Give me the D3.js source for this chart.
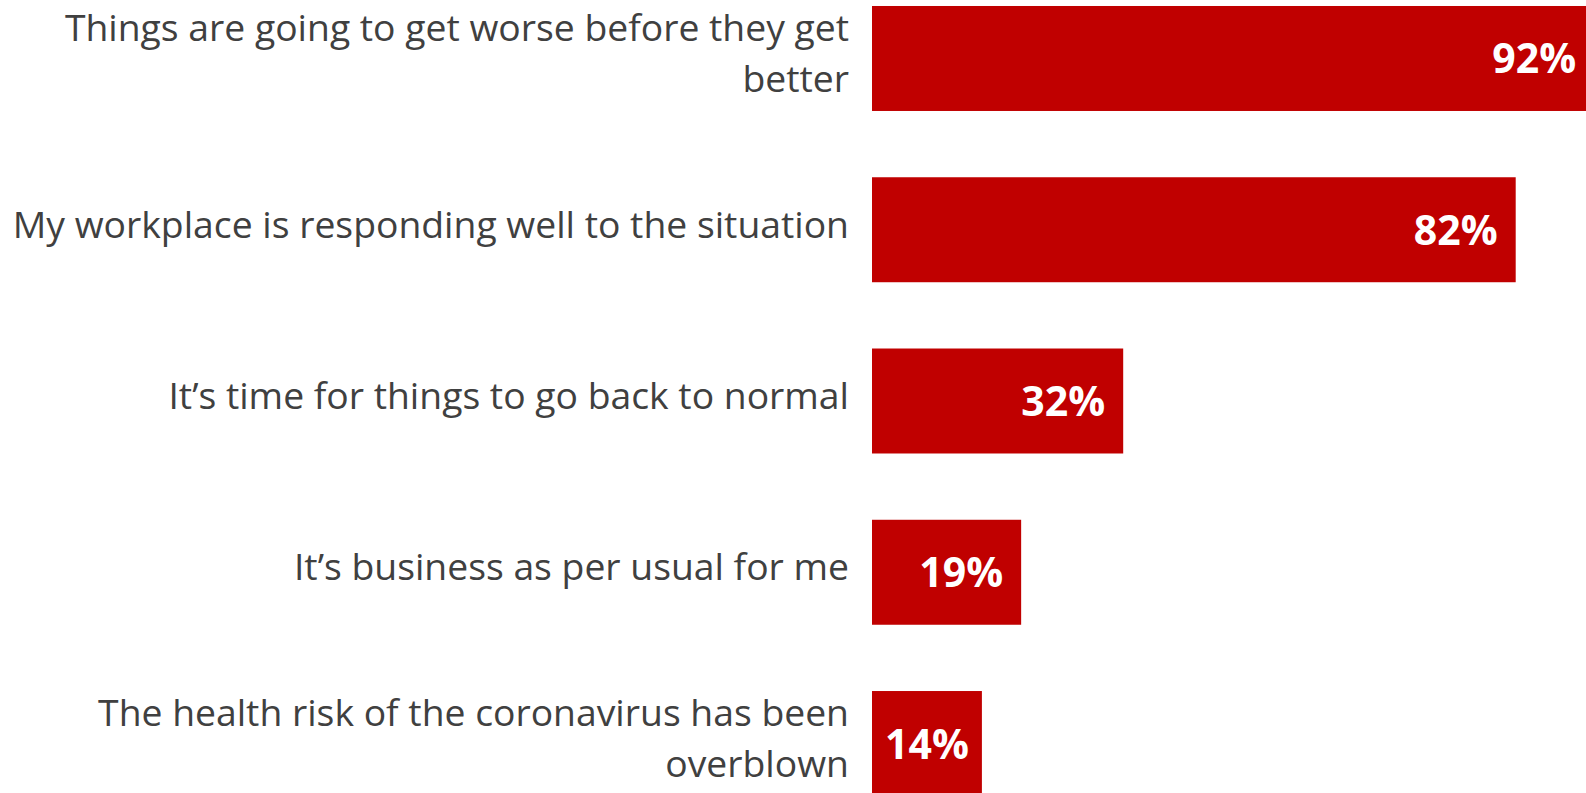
<!DOCTYPE html>
<html>
<head>
<meta charset="utf-8">
<script src="https://cdn.jsdelivr.net/npm/d3@7"></script>
<style>
  html, body { margin: 0; padding: 0; background: #ffffff; overflow: hidden; }
  svg { display: block; }
</style>
</head>
<body>
<svg id="chart" width="1586" height="793"></svg>
<script>
// Survey statements (line breaks mark where long labels wrap)
const categories = [
  "Things are going to get worse before they get\nbetter",
  "My workplace is responding well to the situation",
  "It\u2019s time for things to go back to normal",
  "It\u2019s business as per usual for me",
  "The health risk of the coronavirus has been\noverblown"
];
// Share of respondents agreeing, in percent
const values = [92, 82, 32, 19, 14];
const valueLabels = values.map(v => v + "%");

const W = 1586, H = 793;
const barColor = "#C00000";
const textColor = "#404040";

const svg = d3.select("#chart");

const x = d3.scaleLinear().domain([0, 100]).range([872, 872 + 785]);
const y = d3.scaleBand()
  .domain(d3.range(categories.length))
  .range([0, 802])
  .paddingInner(0.387)
  .paddingOuter(0.035);

// Bars
svg.append("g")
  .selectAll("rect")
  .data(values)
  .join("rect")
  .attr("x", x(0))
  .attr("y", (d, i) => y(i))
  .attr("width", d => x(d) - x(0))
  .attr("height", y.bandwidth())
  .attr("fill", barColor);

// Value labels inside the end of each bar; centred when the bar is too short
const pad = 18;
svg.append("g")
  .selectAll("text")
  .data(values)
  .join("text")
  .attr("y", (d, i) => y(i) + y.bandwidth() / 2 + 15)
  .attr("font-family", "'Open Sans', sans-serif")
  .attr("font-weight", 700)
  .attr("font-size", 41)
  .attr("fill", "#ffffff")
  .text((d, i) => valueLabels[i])
  .each(function (d) {
    const t = d3.select(this);
    const w = this.getComputedTextLength();
    const barW = x(d) - x(0);
    if (w + 2 * pad > barW) {
      t.attr("x", x(0) + barW / 2).attr("text-anchor", "middle");
    } else {
      t.attr("x", x(d) - pad).attr("text-anchor", "end");
    }
  });

// Category labels, right-aligned against the bars
const lineHeight = 51;
const catG = svg.append("g");
categories.forEach((c, i) => {
  const lines = c.split("\n");
  const cy = y(i) + y.bandwidth() / 2 + 8;
  const first = cy - (lines.length - 1) * lineHeight / 2;
  const t = catG.append("text")
    .attr("text-anchor", "end")
    .attr("font-family", "'Open Sans', sans-serif")
    .attr("font-size", 37.3)
    .attr("fill", textColor);
  lines.forEach((ln, k) => {
    t.append("tspan")
      .attr("x", 849)
      .attr("y", first + k * lineHeight)
      .text(ln);
  });
});
</script>
</body>
</html>
